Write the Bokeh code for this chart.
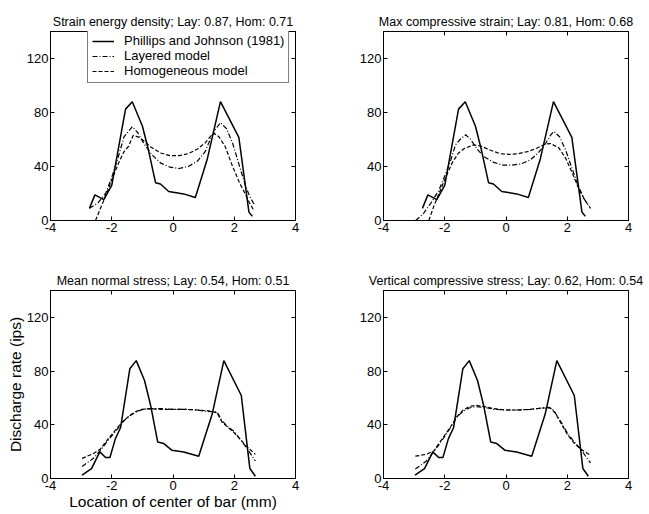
from bokeh.plotting import figure
from bokeh.layouts import row, column
from bokeh.models import FixedTicker, LinearAxis, Legend, LegendItem, Range1d
from bokeh.embed import file_html
from bokeh.resources import INLINE

FONT = "Liberation Sans"

# ---------------- data ----------------
x_ticks = [-4, -2, 0, 2, 4]
x_tick_labels = ["-4", "-2", "0", "2", "4"]
y_ticks = [0, 40, 80, 120]
y_tick_labels = ["0", "40", "80", "120"]

series_names = ["Phillips and Johnson (1981)", "Layered model", "Homogeneous model"]
titles = [
    "Strain energy density; Lay: 0.87, Hom: 0.71",
    "Max compressive strain; Lay: 0.81, Hom: 0.68",
    "Mean normal stress; Lay: 0.54, Hom: 0.51",
    "Vertical compressive stress; Lay: 0.62, Hom: 0.54",
]
x_label = "Location of center of bar (mm)"
y_label = "Discharge rate (ips)"

# Phillips and Johnson (1981) measured response (top row)
pj_top_x = [-2.73, -2.55, -2.26, -2.0, -1.55, -1.33, -1.0, -0.8, -0.57, -0.41, -0.14, 0.35, 0.73, 1.12, 1.55, 2.15, 2.48, 2.59]
pj_top_y = [9, 19, 15.5, 26, 82.5, 88, 70, 52, 28, 27, 21.5, 19.7, 17, 45.6, 88, 61.6, 6.2, 3.2]
# Phillips and Johnson (1981) measured response (bottom row)
pj_bot_x = [-2.97, -2.66, -2.39, -2.2, -2.06, -1.88, -1.71, -1.41, -1.2, -0.93, -0.73, -0.5, -0.3, -0.03, 0.35, 0.84, 1.28, 1.66, 2.23, 2.51, 2.69]
pj_bot_y = [2.5, 7.4, 19.8, 15.6, 15.6, 29.7, 38, 81.7, 87.8, 73, 54.4, 27.2, 26, 21, 19.8, 16.6, 48, 87.8, 61.8, 7.4, 1.7]

# Strain energy density
sed_lay_x = [-2.73, -2.45, -2.2, -2.0, -1.8, -1.6, -1.45, -1.33, -1.15, -0.95, -0.7, -0.4, -0.1, 0.2, 0.5, 0.8, 1.05, 1.25, 1.4, 1.55, 1.75, 1.95, 2.15, 2.35, 2.5, 2.65]
sed_lay_y = [9, 13, 20, 32, 46, 62, 66, 69.5, 65, 57, 49, 42.5, 39.5, 38.5, 40, 44, 51, 62, 68, 72.5, 68, 57, 42, 27, 18, 12]
sed_hom_x = [-2.53, -2.35, -2.15, -1.95, -1.75, -1.6, -1.45, -1.3, -1.15, -0.95, -0.7, -0.4, -0.1, 0.2, 0.5, 0.8, 1.05, 1.25, 1.35, 1.5, 1.7, 1.93, 2.15, 2.35, 2.5, 2.65]
sed_hom_y = [0, 10, 21, 33, 44, 51, 55, 63, 62, 59, 54, 50, 48, 48, 49.5, 53, 57.5, 63, 64.5, 62, 55, 41, 29, 20, 13, 7]

# Max compressive strain
mcs_lay_x = [-2.95, -2.7, -2.45, -2.2, -2.0, -1.8, -1.65, -1.5, -1.32, -1.15, -0.95, -0.7, -0.4, -0.1, 0.2, 0.5, 0.8, 1.05, 1.29, 1.45, 1.56, 1.75, 1.95, 2.15, 2.35, 2.55, 2.76]
mcs_lay_y = [0, 5, 13, 22, 33, 45, 56, 60, 63.5, 60, 53, 47, 43, 41, 41, 42, 45, 50, 57, 63, 66, 62, 52, 39, 26, 16, 9]
mcs_hom_x = [-2.52, -2.35, -2.15, -1.95, -1.75, -1.55, -1.35, -1.05, -0.8, -0.5, -0.2, 0.1, 0.4, 0.7, 1.0, 1.29, 1.45, 1.72, 1.95, 2.15, 2.35, 2.55, 2.7]
mcs_hom_y = [0, 11, 22, 33, 43, 50, 53.5, 56, 55, 52, 49.5, 49, 49.5, 51, 53.5, 56.7, 57, 54, 46, 36, 25, 16, 11]

# Mean normal stress
mns_lay_x = [-2.97, -2.6, -2.37, -2.1, -1.88, -1.6, -1.4, -1.2, -1.0, -0.8, -0.4, 0.0, 0.4, 0.8, 1.1, 1.44, 1.6, 1.8, 2.0, 2.2, 2.4, 2.69]
mns_lay_y = [9, 15, 21, 29, 35, 43, 47, 49.5, 51.5, 52, 52, 51.5, 51.5, 51, 50, 49.5, 43, 38.5, 35, 29, 23, 13]
mns_hom_x = [-2.97, -2.6, -2.37, -2.1, -1.88, -1.6, -1.4, -1.2, -1.0, -0.8, -0.4, 0.0, 0.4, 0.8, 1.1, 1.44, 1.6, 1.8, 2.0, 2.2, 2.4, 2.69]
mns_hom_y = [15, 18.5, 22, 30, 36, 43.5, 47, 50, 51.5, 52, 51.5, 51.5, 51.5, 51, 50.5, 49, 42, 38, 34, 29, 24, 18]

# Vertical compressive stress
vcs_lay_x = [-2.96, -2.6, -2.36, -2.1, -1.81, -1.6, -1.4, -1.2, -1.0, -0.7, -0.4, 0.0, 0.4, 0.8, 1.2, 1.4, 1.55, 1.8, 2.0, 2.2, 2.43, 2.76]
vcs_lay_y = [7, 13, 20, 28, 38, 46, 50, 52.5, 53.5, 53, 51.5, 51, 51, 51.5, 52.5, 53, 51, 42, 34, 28, 22, 11.6]
vcs_hom_x = [-2.96, -2.6, -2.36, -2.1, -1.81, -1.6, -1.4, -1.2, -1.0, -0.7, -0.4, 0.0, 0.4, 0.8, 1.2, 1.45, 1.6, 1.8, 2.0, 2.2, 2.43, 2.76]
vcs_hom_y = [16.6, 18, 20.5, 29, 38.5, 46, 51, 53.5, 54.5, 53.5, 52, 51, 51, 51.5, 52.5, 52.5, 49, 41, 33, 27, 22, 17.3]


def style_axis(ax, ticks, labels, show_labels=True):
    ax.ticker = FixedTicker(ticks=ticks)
    ax.major_tick_in = 4
    ax.major_tick_out = 0
    ax.minor_tick_line_color = None
    ax.major_tick_line_color = "black"
    ax.axis_line_color = "black"
    ax.major_label_text_font = FONT
    ax.major_label_text_color = "black"
    if show_labels:
        ax.major_label_overrides = {t: l for t, l in zip(ticks, labels)}
        ax.major_label_text_font_size = "13px"
        ax.major_label_standoff = 2
    else:
        ax.major_label_overrides = {t: "" for t in ticks}
        ax.major_label_text_font_size = "0px"
        ax.major_label_standoff = 0


def style_label(ax, text):
    ax.axis_label = text
    ax.axis_label_text_font = FONT
    ax.axis_label_text_font_size = "15.5px"
    ax.axis_label_text_font_style = "normal"
    ax.axis_label_text_color = "black"
    ax.axis_label_standoff = 0


def make_fig(title, pj, lay, hom, bl, br, bt, bb, fh, legend=False, xlab=None, ylab=None):
    p = figure(frame_width=245, frame_height=fh,
               x_range=Range1d(-4, 4), y_range=Range1d(0, 140),
               output_backend="svg", toolbar_location=None,
               min_border_left=bl, min_border_right=br,
               min_border_top=bt, min_border_bottom=bb,
               background_fill_color="white", border_fill_color="white")
    p.grid.visible = False
    p.outline_line_color = "black"
    p.outline_line_width = 1
    p.title.text = title
    p.title.align = "center"
    p.title.text_font = FONT
    p.title.text_font_size = "12.5px"
    p.title.text_font_style = "normal"
    p.title.text_color = "black"
    p.title.standoff = 6

    bottom_axis = p.xaxis[0]
    left_axis = p.yaxis[0]
    style_axis(bottom_axis, x_ticks, x_tick_labels)
    style_axis(left_axis, y_ticks, y_tick_labels)
    for side, ticks, labels in (("above", x_ticks, x_tick_labels), ("right", y_ticks, y_tick_labels)):
        ax = LinearAxis()
        style_axis(ax, ticks, labels, show_labels=False)
        p.add_layout(ax, side)

    if xlab:
        style_label(bottom_axis, xlab)
    if ylab:
        style_label(left_axis, ylab)

    r1 = p.line(pj[0], pj[1], line_color="black", line_width=1.5)
    r2 = p.line(lay[0], lay[1], line_color="black", line_width=1.2, line_dash="5 2 1 2")
    r3 = p.line(hom[0], hom[1], line_color="black", line_width=1.2, line_dash="4 2")

    if legend:
        lg = Legend(items=[LegendItem(label=series_names[0], renderers=[r1]),
                           LegendItem(label=series_names[1], renderers=[r2]),
                           LegendItem(label=series_names[2], renderers=[r3])],
                    location=(37, 137))
        lg.border_line_color = "black"
        lg.border_line_width = 1
        lg.background_fill_color = "white"
        lg.background_fill_alpha = 1
        lg.label_text_font = FONT
        lg.label_text_font_size = "13px"
        lg.label_text_color = "black"
        lg.padding = 4
        lg.spacing = 0
        lg.margin = 0
        lg.label_height = 14
        lg.glyph_height = 14
        lg.glyph_width = 22
        lg.label_standoff = 10
        p.add_layout(lg)
    return p


p1 = make_fig(titles[0], (pj_top_x, pj_top_y), (sed_lay_x, sed_lay_y), (sed_hom_x, sed_hom_y),
              50, 38, 31, 39, 189, legend=True)
p2 = make_fig(titles[1], (pj_top_x, pj_top_y), (mcs_lay_x, mcs_lay_y), (mcs_hom_x, mcs_hom_y),
              50, 19, 31, 39, 189)
p3 = make_fig(titles[2], (pj_bot_x, pj_bot_y), (mns_lay_x, mns_lay_y), (mns_hom_x, mns_hom_y),
              50, 38, 31, 36, 188, xlab=x_label, ylab=y_label)
p4 = make_fig(titles[3], (pj_bot_x, pj_bot_y), (vcs_lay_x, vcs_lay_y), (vcs_hom_x, vcs_hom_y),
              50, 19, 31, 36, 188)

layout = column(row(p1, p2), row(p3, p4))
open("out.html", "w").write(file_html(layout, INLINE))
